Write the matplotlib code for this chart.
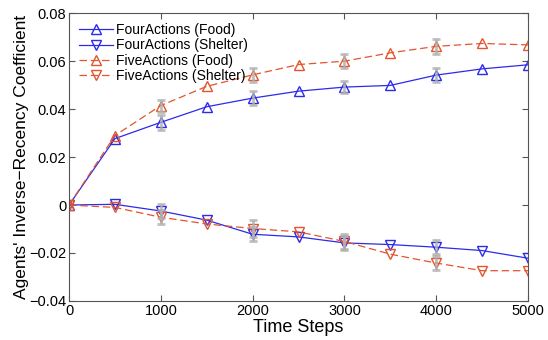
import matplotlib
matplotlib.use('Agg')
import matplotlib.pyplot as plt
from matplotlib.ticker import FuncFormatter

plt.rcParams['font.family'] = ['Liberation Sans', 'DejaVu Sans']

# time steps
steps = [0, 500, 1000, 1500, 2000, 2500, 3000, 3500, 4000, 4500, 5000]

# coefficient values
four_food = [0.0, 0.0277, 0.0345, 0.041, 0.0446, 0.0475, 0.0492, 0.0499, 0.0542, 0.0568, 0.0585]
four_shelter = [0.0, 0.0003, -0.0025, -0.0063, -0.0122, -0.0133, -0.0158, -0.0165, -0.0176, -0.0190, -0.0222]
five_food = [0.0, 0.029, 0.0415, 0.0495, 0.0543, 0.0586, 0.0600, 0.0635, 0.0662, 0.0674, 0.0668]
five_shelter = [0.0, -0.001, -0.0051, -0.0079, -0.0098, -0.0112, -0.0152, -0.0205, -0.0242, -0.0274, -0.0274]

# error bars only at every 1000 steps
err_steps = [1000, 2000, 3000, 4000]
four_food_err = [0.0030, 0.0030, 0.0025, 0.0030]
five_food_err = [0.0025, 0.0030, 0.0028, 0.0030]
four_shelter_err = [0.0030, 0.0030, 0.0030, 0.0030]
five_shelter_err = [0.0030, 0.0035, 0.0030, 0.0030]

blue = '#2b2bea'
red = '#e2552e'

fig = plt.figure(figsize=(5.48, 3.40), dpi=100)
ax = fig.add_axes([0.126, 0.115, 0.8375, 0.846])

ax.plot(steps, four_food, '-', color=blue, lw=0.9, marker='^', ms=7,
        mfc='none', mec=blue, mew=1, label='FourActions (Food)')
ax.plot(steps, four_shelter, '-', color=blue, lw=0.9, marker='v', ms=7,
        mfc='none', mec=blue, mew=1, label='FourActions (Shelter)')
ax.plot(steps, five_food, '--', color=red, lw=0.9, marker='^', ms=7,
        mfc='none', mec=red, mew=1, dashes=(6, 3), label='FiveActions (Food)')
ax.plot(steps, five_shelter, '--', color=red, lw=0.9, marker='v', ms=7,
        mfc='none', mec=red, mew=1, dashes=(6, 3), label='FiveActions (Shelter)')

# grey error bars drawn over the markers
for series, errs in [(four_food, four_food_err), (five_food, five_food_err),
                     (four_shelter, four_shelter_err), (five_shelter, five_shelter_err)]:
    ys = [series[steps.index(s)] for s in err_steps]
    ax.errorbar(err_steps, ys, yerr=errs, fmt='none', ecolor='#b0b0b0',
                elinewidth=2, capsize=3, capthick=2, alpha=0.8, zorder=5)

ax.set_xlim(0, 5000)
ax.set_ylim(-0.04, 0.08)
ax.set_xticks([0, 1000, 2000, 3000, 4000, 5000])
ax.set_yticks([-0.04, -0.02, 0, 0.02, 0.04, 0.06, 0.08])


def yfmt(v, pos):
    if abs(v) < 1e-9:
        return '0'
    return ('%.2f' % v).replace('-', '\u2212')


ax.yaxis.set_major_formatter(FuncFormatter(yfmt))
ax.tick_params(direction='in', top=True, right=True, labelsize=10.5,
               length=4, color='#555555', pad=2)
for sp in ax.spines.values():
    sp.set_color('#555555')

ax.set_xlabel('Time Steps', fontsize=13, labelpad=1)
ax.set_ylabel("Agents' Inverse\u2212Recency Coefficient", fontsize=12.5, labelpad=0)

leg = ax.legend(loc='upper left', frameon=False, fontsize=10,
                handlelength=2.5, borderaxespad=0.3, borderpad=0.4,
                labelspacing=0.1, handletextpad=0.2)

fig.savefig('out.png', dpi=100)
